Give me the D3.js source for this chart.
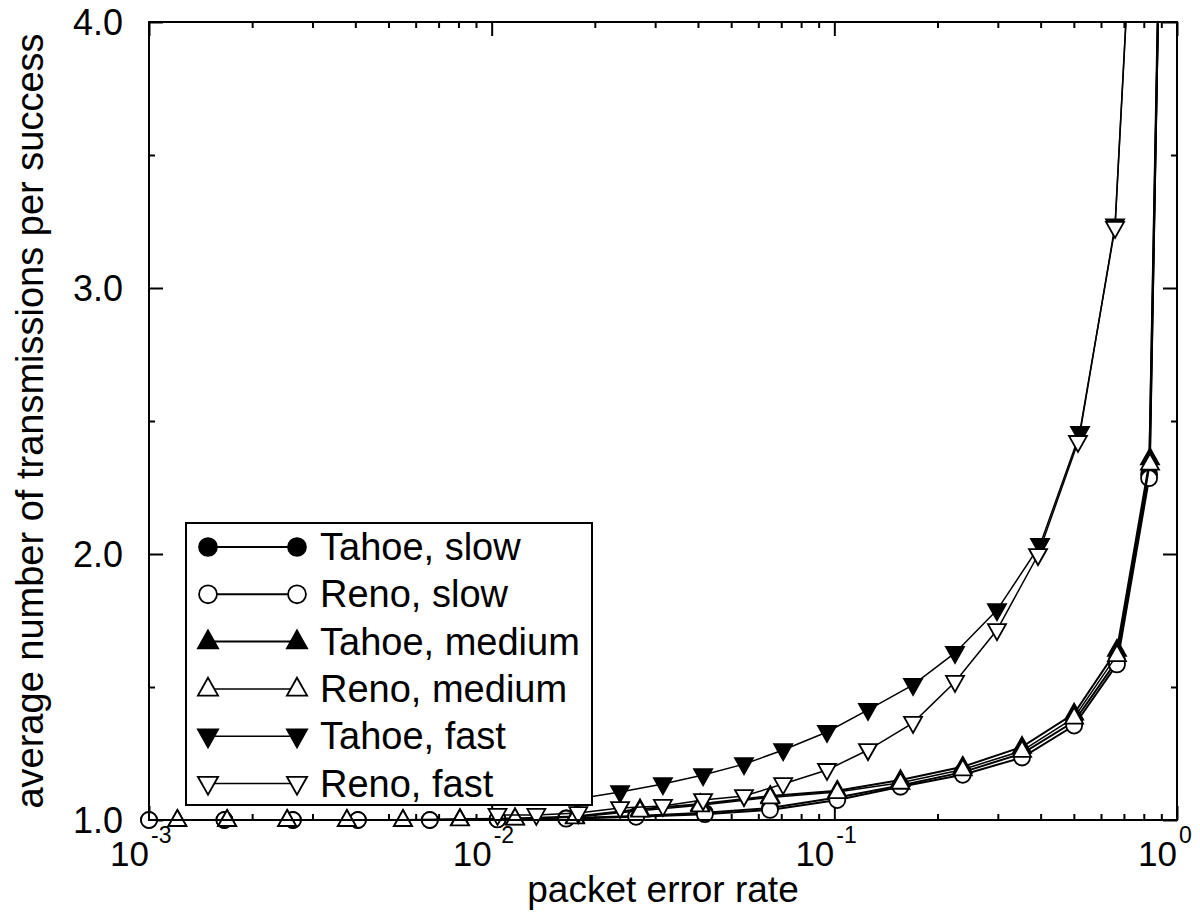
<!DOCTYPE html>
<meta charset="utf-8">
<style>
body { margin: 0; background: #fff; }
text { font-family: "Liberation Sans", Arial, sans-serif; fill: #000; }
.axis path { display: none; }
.axis line { stroke: #000; stroke-width: 2px; }
.series path.line { fill: none; stroke: #000; }
</style>
<svg width="1200" height="923"></svg>
<script src="https://d3js.org/d3.v7.min.js"></script>
<script>

// packet error rate (x) and average transmissions per success (y)
var slowX   = [0.001, 0.00166, 0.00263, 0.00407, 0.0066, 0.0104, 0.0165, 0.0264, 0.0419, 0.0649, 0.102, 0.156, 0.237, 0.353, 0.501, 0.668, 0.829, 0.923];
var tahoeSlowY = [1.0, 1.0, 1.0, 1.0, 1.0, 1.003, 1.007, 1.015, 1.027, 1.045, 1.085, 1.13, 1.18, 1.25, 1.37, 1.6, 2.3, 5.5];
var renoSlowY  = [1.0, 1.0, 1.0, 1.0, 1.0, 1.002, 1.005, 1.012, 1.022, 1.038, 1.075, 1.125, 1.17, 1.235, 1.355, 1.585, 2.285, 5.4];

var mediumX = [0.00121, 0.00169, 0.00253, 0.00378, 0.00551, 0.00808, 0.0117, 0.0175, 0.0271, 0.0406, 0.065, 0.102, 0.156, 0.237, 0.353, 0.501, 0.668, 0.834, 0.923];
var tahoeMediumY = [1.0, 1.0, 1.0, 1.0, 1.0, 1.003, 1.006, 1.013, 1.04, 1.06, 1.09, 1.11, 1.15, 1.2, 1.275, 1.4, 1.64, 2.36, 5.5];
var renoMediumY  = [1.0, 1.0, 1.0, 1.0, 1.0, 1.002, 1.005, 1.01, 1.035, 1.055, 1.085, 1.105, 1.14, 1.19, 1.26, 1.385, 1.62, 2.34, 5.4];

var tahoeFastX = [0.0179, 0.0237, 0.0316, 0.0414, 0.0545, 0.0709, 0.0952, 0.1254, 0.1697, 0.225, 0.2983, 0.3984, 0.5212, 0.6594, 0.78];
var tahoeFastY = [1.08, 1.105, 1.135, 1.169, 1.21, 1.263, 1.331, 1.414, 1.508, 1.628, 1.789, 2.034, 2.455, 3.235, 5.0];
var renoFastX  = [0.0104, 0.0135, 0.0179, 0.0237, 0.0316, 0.0414, 0.0545, 0.0709, 0.0952, 0.1254, 0.1697, 0.225, 0.2983, 0.393, 0.5141, 0.6594, 0.78];
var renoFastY  = [1.019, 1.019, 1.026, 1.045, 1.053, 1.075, 1.09, 1.135, 1.188, 1.263, 1.365, 1.519, 1.714, 1.996, 2.421, 3.226, 5.0];

var seriesNames = ["Tahoe, slow", "Reno, slow", "Tahoe, medium", "Reno, medium", "Tahoe, fast", "Reno, fast"];
var xTickValues = [1e-3, 1e-2, 1e-1, 1];
var xTickExps = ["-3", "-2", "-1", "0"];
var yTickValues = [1, 2, 3, 4];
var yMinorValues = [1.5, 2.5, 3.5];

var series = [
  {name: seriesNames[0], xs: slowX, ys: tahoeSlowY, shape: "circle", filled: true, width: 2},
  {name: seriesNames[1], xs: slowX, ys: renoSlowY, shape: "circle", filled: false, width: 2},
  {name: seriesNames[2], xs: mediumX, ys: tahoeMediumY, shape: "up", filled: true, width: 2},
  {name: seriesNames[3], xs: mediumX, ys: renoMediumY, shape: "up", filled: false, width: 1.5},
  {name: seriesNames[4], xs: tahoeFastX, ys: tahoeFastY, shape: "down", filled: true, width: 1.5},
  {name: seriesNames[5], xs: renoFastX, ys: renoFastY, shape: "down", filled: false, width: 1.5}
];

var svg = d3.select("svg"),
    mLeft = 149, mRight = 1177, mTop = 22, mBottom = 820;

var x = d3.scaleLog().domain([1e-3, 1]).range([mLeft, mRight]);
var y = d3.scaleLinear().domain([1, 4]).range([mBottom, mTop]);

var minorX = [];
[1e-3, 1e-2, 1e-1].forEach(function(d) {
  for (var k = 2; k <= 9; k++) minorX.push(d * k);
});

// axes with inward ticks on all four sides
svg.append("g").attr("class", "axis")
    .attr("transform", "translate(0," + mBottom + ")")
    .call(d3.axisBottom(x).tickValues(xTickValues).tickSize(-14).tickSizeOuter(0).tickFormat(""));
svg.append("g").attr("class", "axis")
    .attr("transform", "translate(0," + mBottom + ")")
    .call(d3.axisBottom(x).tickValues(minorX).tickSize(-6).tickSizeOuter(0).tickFormat(""));
svg.append("g").attr("class", "axis")
    .attr("transform", "translate(0," + mTop + ")")
    .call(d3.axisTop(x).tickValues(xTickValues).tickSize(-14).tickSizeOuter(0).tickFormat(""));
svg.append("g").attr("class", "axis")
    .attr("transform", "translate(0," + mTop + ")")
    .call(d3.axisTop(x).tickValues(minorX).tickSize(-6).tickSizeOuter(0).tickFormat(""));

var yAxis = svg.append("g").attr("class", "axis")
    .attr("transform", "translate(" + mLeft + ",0)")
    .call(d3.axisLeft(y).tickValues(yTickValues).tickSize(-14).tickSizeOuter(0)
      .tickPadding(26).tickFormat(d3.format(".1f")));
yAxis.selectAll("text").style("font-size", "36px").attr("dy", "0.36em");
svg.append("g").attr("class", "axis")
    .attr("transform", "translate(" + mLeft + ",0)")
    .call(d3.axisLeft(y).tickValues(yMinorValues).tickSize(-6).tickSizeOuter(0).tickFormat(""));
svg.append("g").attr("class", "axis")
    .attr("transform", "translate(" + mRight + ",0)")
    .call(d3.axisRight(y).tickValues(yTickValues).tickSize(-14).tickSizeOuter(0).tickFormat(""));
svg.append("g").attr("class", "axis")
    .attr("transform", "translate(" + mRight + ",0)")
    .call(d3.axisRight(y).tickValues(yMinorValues).tickSize(-6).tickSizeOuter(0).tickFormat(""));

// x tick labels as 10 with superscript exponent
var xl = svg.append("g").selectAll("g")
    .data(xTickValues)
    .enter().append("g")
    .attr("transform", function(d) { return "translate(" + x(d) + ",0)"; });
xl.append("text")
    .attr("text-anchor", "end")
    .attr("y", 866)
    .style("font-size", "35px")
    .text("10");
xl.append("text")
    .attr("x", 2)
    .attr("y", 843)
    .style("font-size", "23px")
    .text(function(d, i) { return xTickExps[i]; });

// axis titles
svg.append("text")
    .attr("x", (mLeft + mRight) / 2)
    .attr("y", 902)
    .attr("text-anchor", "middle")
    .style("font-size", "37px")
    .text("packet error rate");
svg.append("text")
    .attr("transform", "translate(43," + ((mTop + mBottom) / 2) + ") rotate(-90)")
    .attr("text-anchor", "middle")
    .style("font-size", "38px")
    .text("average number of transmissions per success");

function markerPath(shape) {
  if (shape === "circle") return d3.symbol().type(d3.symbolCircle).size(Math.PI * 64)();
  if (shape === "up") return "M0,-10L9,6L-9,6Z";
  return "M-9,-6L9,-6L0,10Z";
}

var defs = svg.append("defs");
defs.append("clipPath").attr("id", "plot")
  .append("rect").attr("x", mLeft).attr("y", mTop)
    .attr("width", mRight - mLeft).attr("height", mBottom - mTop);
defs.append("clipPath").attr("id", "marks")
  .append("rect").attr("x", mLeft - 15).attr("y", mTop)
    .attr("width", mRight - mLeft + 15).attr("height", mBottom - mTop + 15);

var plot = svg.append("g");

var line = d3.line()
    .x(function(d) { return x(d[0]); })
    .y(function(d) { return y(d[1]); });

series.forEach(function(s) {
  var pts = s.xs.map(function(v, i) { return [v, s.ys[i]]; });
  var g = plot.append("g").attr("class", "series");
  g.append("path").attr("class", "line")
      .attr("clip-path", "url(#plot)")
      .attr("d", line(pts))
      .attr("stroke-width", s.width);
  g.append("g").attr("clip-path", "url(#marks)")
    .selectAll("path.mark")
      .data(pts.filter(function(d) { return d[1] <= 4; }))
      .enter().append("path")
      .attr("class", "mark")
      .attr("d", markerPath(s.shape))
      .attr("transform", function(d) { return "translate(" + x(d[0]) + "," + y(d[1]) + ")"; })
      .attr("fill", s.filled ? "#000" : "#fff")
      .attr("stroke", "#000")
      .attr("stroke-width", 1.8);
});

// frame
svg.append("rect")
    .attr("x", mLeft).attr("y", mTop)
    .attr("width", mRight - mLeft).attr("height", mBottom - mTop)
    .attr("fill", "none").attr("stroke", "#000").attr("stroke-width", 2);

// legend
var legend = svg.append("g");
legend.append("rect")
    .attr("x", 186).attr("y", 523).attr("width", 406).attr("height", 282)
    .attr("fill", "#fff").attr("stroke", "#000").attr("stroke-width", 2);

var row = legend.selectAll("g.row")
    .data(series)
    .enter().append("g")
    .attr("class", "row")
    .attr("transform", function(d, i) { return "translate(0," + (547 + i * 47.3) + ")"; });
row.append("line")
    .attr("x1", 208).attr("x2", 297)
    .attr("stroke", "#000")
    .attr("stroke-width", function(d) { return d.width; });
[208, 297].forEach(function(mx) {
  row.append("path")
      .attr("d", function(d) { return markerPath(d.shape); })
      .attr("transform", "translate(" + mx + ",0) scale(1.12)")
      .attr("fill", function(d) { return d.filled ? "#000" : "#fff"; })
      .attr("stroke", "#000")
      .attr("stroke-width", 1.6);
});
row.append("text")
    .attr("x", 320)
    .attr("y", 13)
    .style("font-size", "38px")
    .text(function(d) { return d.name; });

</script>
